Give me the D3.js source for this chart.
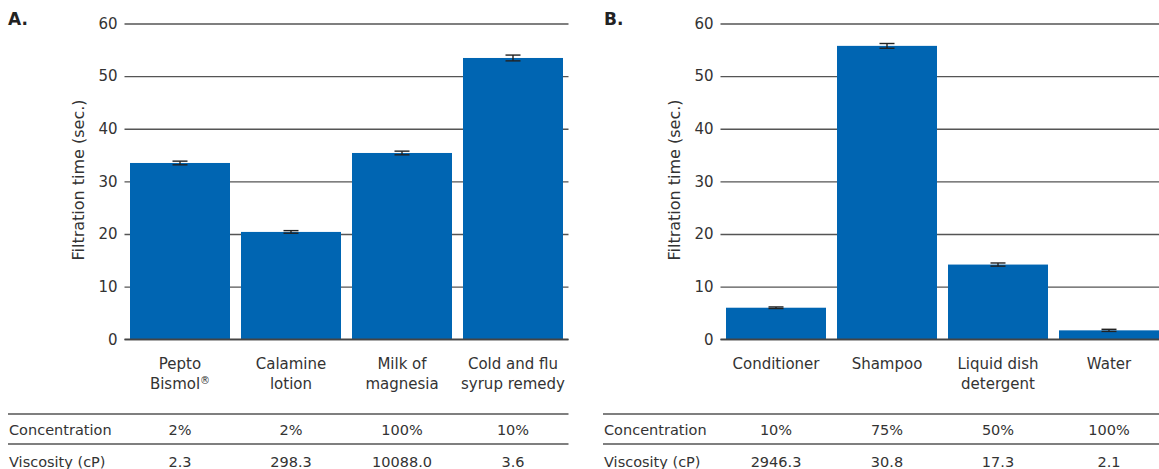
<!DOCTYPE html>
<html>
<head>
<meta charset="utf-8">
<script src="https://cdn.jsdelivr.net/npm/d3@7"></script>
<style>
  html, body { margin: 0; padding: 0; background: #fff; }
  svg { display: block; font-family: "DejaVu Sans", Verdana, sans-serif; }
</style>
</head>
<body>
<svg id="chart" width="1159" height="469"></svg>
<script>
// ---- data ----
const categoriesA = ["Pepto Bismol®", "Calamine lotion", "Milk of magnesia", "Cold and flu syrup remedy"];
const labelLinesA = [["Pepto", "Bismol®"], ["Calamine", "lotion"], ["Milk of", "magnesia"], ["Cold and flu", "syrup remedy"]];
const valuesA = [33.5, 20.4, 35.4, 53.45];
const errorsA = [0.35, 0.25, 0.35, 0.55];
const concentrationA = ["2%", "2%", "100%", "10%"];
const viscosityA = ["2.3", "298.3", "10088.0", "3.6"];

const categoriesB = ["Conditioner", "Shampoo", "Liquid dish detergent", "Water"];
const labelLinesB = [["Conditioner"], ["Shampoo"], ["Liquid dish", "detergent"], ["Water"]];
const valuesB = [6.0, 55.75, 14.2, 1.7];
const errorsB = [0.15, 0.45, 0.3, 0.2];
const concentrationB = ["10%", "75%", "50%", "100%"];
const viscosityB = ["2946.3", "30.8", "17.3", "2.1"];

const yTicks = [0, 10, 20, 30, 40, 50, 60];
const yTitle = "Filtration time (sec.)";
const rowLabels = ["Concentration", "Viscosity (cP)"];

// ---- drawing ----
const svg = d3.select("#chart");
const BAR = "#0065b2";
const TEXT = "#333333";
const GRID = "#555555";

function panel(opt) {
  const g = svg.append("g");
  const y = d3.scaleLinear().domain([0, 60]).range([339.3, 23.5]);
  const x = d3.scaleBand().domain(opt.categories)
    .range([opt.x0, opt.x0 + 444])
    .paddingInner(11 / 111).paddingOuter(5.5 / 111);

  // panel letter
  g.append("text").attr("x", opt.letterX).attr("y", 25)
    .attr("font-size", 17).attr("font-weight", "bold").attr("fill", "#222")
    .text(opt.letter);

  // gridlines + tick labels
  const axis = d3.axisLeft(y).tickValues(yTicks).tickSize(-(opt.gridEnd - opt.x0)).tickPadding(7)
    .tickFormat(d3.format("d"));
  const ag = g.append("g").attr("transform", `translate(${opt.x0},0)`).call(axis);
  ag.select(".domain").remove();
  ag.selectAll(".tick line").attr("stroke", GRID).attr("stroke-width", 1.4);
  ag.selectAll(".tick text").attr("fill", TEXT).attr("font-size", 15)
    .attr("font-family", '"DejaVu Sans", Verdana, sans-serif');

  // y title
  g.append("text")
    .attr("transform", `translate(${opt.x0 - 41},${180}) rotate(-90)`)
    .attr("text-anchor", "middle").attr("fill", TEXT).attr("font-size", 16)
    .text(yTitle);

  // bars
  g.selectAll("rect.bar").data(opt.values).join("rect")
    .attr("class", "bar")
    .attr("x", (d, i) => x(opt.categories[i]))
    .attr("width", x.bandwidth())
    .attr("y", d => y(d))
    .attr("height", d => y(0) - y(d))
    .attr("fill", BAR);

  // zero line on top
  g.append("line").attr("x1", opt.x0).attr("x2", opt.gridEnd)
    .attr("y1", y(0)).attr("y2", y(0)).attr("stroke", "#444").attr("stroke-width", 1.6);

  // error bars
  const eg = g.append("g").attr("stroke", "#222").attr("stroke-width", 1.4);
  opt.values.forEach((v, i) => {
    const cx = x(opt.categories[i]) + x.bandwidth() / 2;
    const e = opt.errors[i];
    eg.append("line").attr("x1", cx).attr("x2", cx).attr("y1", y(v + e)).attr("y2", y(v - e));
    eg.append("line").attr("x1", cx - 7.5).attr("x2", cx + 7.5).attr("y1", y(v + e)).attr("y2", y(v + e));
    eg.append("line").attr("x1", cx - 7.5).attr("x2", cx + 7.5).attr("y1", y(v - e)).attr("y2", y(v - e));
  });

  // category labels
  opt.labelLines.forEach((lines, i) => {
    const cx = x(opt.categories[i]) + x.bandwidth() / 2;
    lines.forEach((ln, j) => {
      const t = g.append("text").attr("x", cx).attr("y", 369 + j * 19.5)
        .attr("text-anchor", "middle").attr("fill", TEXT).attr("font-size", 15);
      if (ln.endsWith("®")) {
        t.append("tspan").text(ln.slice(0, -1));
        t.append("tspan").attr("font-size", 10).attr("dy", -5).text("®");
      } else {
        t.text(ln);
      }
    });
  });

  // table
  const tl = opt.tableX0;
  [414, 444].forEach(yy => {
    g.append("line").attr("x1", tl).attr("x2", opt.gridEnd).attr("y1", yy).attr("y2", yy)
      .attr("stroke", GRID).attr("stroke-width", 1.4);
  });
  [opt.concentration, opt.viscosity].forEach((row, r) => {
    const by = r === 0 ? 435 : 467;
    g.append("text").attr("x", tl + 1).attr("y", by).attr("fill", TEXT).attr("font-size", 14.5)
      .text(rowLabels[r]);
    row.forEach((val, i) => {
      const cx = x(opt.categories[i]) + x.bandwidth() / 2;
      g.append("text").attr("x", cx).attr("y", by).attr("text-anchor", "middle")
        .attr("fill", TEXT).attr("font-size", 14.5).text(val);
    });
  });
}

panel({
  letter: "A.", letterX: 8, x0: 124.5, gridEnd: 568.5, tableX0: 8,
  categories: categoriesA, labelLines: labelLinesA, values: valuesA, errors: errorsA,
  concentration: concentrationA, viscosity: viscosityA
});
panel({
  letter: "B.", letterX: 604, x0: 720.5, gridEnd: 1164.5, tableX0: 603,
  categories: categoriesB, labelLines: labelLinesB, values: valuesB, errors: errorsB,
  concentration: concentrationB, viscosity: viscosityB
});
</script>
</body>
</html>
